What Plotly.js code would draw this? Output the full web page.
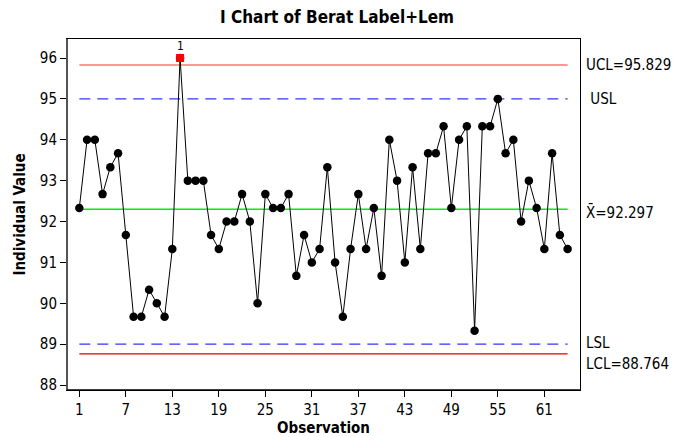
<!DOCTYPE html>
<html>
<head>
<meta charset="utf-8">
<script src="https://cdn.plot.ly/plotly-3.0.1.min.js"></script>
<style>html,body{margin:0;padding:0;background:#fff;}#chart{width:674px;height:437px;}</style>
</head>
<body>
<div id="chart"></div>
<script>
const observations = Array.from({length: 64}, (_, i) => i + 1);
const values = [
  92.33, 94, 94, 92.67, 93.33, 93.67, 91.67, 89.67, 89.67, 90.33,
  90, 89.67, 91.33, 96, 93, 93, 93, 91.67, 91.33, 92,
  92, 92.67, 92, 90, 92.67, 92.33, 92.33, 92.67, 90.67, 91.67,
  91, 91.33, 93.33, 91, 89.67, 91.33, 92.67, 91.33, 92.33, 90.67,
  94, 93, 91, 93.33, 91.33, 93.67, 93.67, 94.33, 92.33, 94,
  94.33, 89.33, 94.33, 94.33, 95, 93.67, 94, 92, 93, 92.33,
  91.33, 93.67, 91.67, 91.33
];
const UCL = 95.829, LCL = 88.764, MEAN = 92.297, USL = 95, LSL = 89;
const flaggedObs = [14];
const flaggedVals = [96];
const xTicks = [1, 7, 13, 19, 25, 31, 37, 43, 49, 55, 61];

const xEnds = [observations[0], observations[observations.length - 1]];
function hline(y, color, dash, width) {
  return {x: xEnds, y: [y, y], mode: 'lines', line: {color: color, width: width || 1.2, dash: dash || 'solid'}, hoverinfo: 'skip', showlegend: false};
}

const traces = [
  hline(UCL, '#ff3030'),
  hline(LCL, '#e00000'),
  hline(MEAN, '#00f000', 'solid', 1.5),
  hline(USL, '#3333ff', '11px,7px', 1.4),
  hline(LSL, '#3333ff', '11px,7px', 1.4),
  {x: observations, y: values, mode: 'lines+markers', line: {color: '#000', width: 1}, marker: {color: '#000', size: 8.5, symbol: 'circle'}, showlegend: false},
  {x: flaggedObs, y: flaggedVals, mode: 'markers', marker: {color: '#ff0000', size: 8, symbol: 'square'}, showlegend: false}
];

const COND = 'DejaVu Sans Condensed, DejaVu Sans, sans-serif';
const tickFont = {family: COND, size: 15, color: '#000'};
const labelFont = {family: COND, size: 15, color: '#000'};
const boldFont = {family: COND, size: 15, color: '#000'};
function rlabel(y, text, yshift) {
  return {xref: 'paper', yref: 'y', x: 1, y: y, text: text, showarrow: false, xanchor: 'left', xshift: 4, yshift: yshift || 0, font: labelFont};
}

const layout = {
  width: 674, height: 437,
  margin: {l: 67, r: 94, t: 39, b: 47},
  paper_bgcolor: '#fff', plot_bgcolor: '#fff',
  title: {text: '<b>I Chart of Berat Label+Lem</b>', x: 0.5, xanchor: 'center', y: 0.962, yanchor: 'middle', font: {family: COND, size: 17, color: '#000'}},
  xaxis: {
    range: [-0.59, 65.6], tickvals: xTicks, ticktext: xTicks.map(String),
    ticks: 'outside', ticklen: 6, tickcolor: '#000', showgrid: false, zeroline: false,
    showline: true, linecolor: '#000', linewidth: 1, mirror: true,
    tickfont: tickFont,
    title: {text: '<b>Observation</b>', font: boldFont, standoff: 4}
  },
  yaxis: {
    range: [87.878, 96.465], dtick: 1, tick0: 88,
    ticks: 'outside', ticklen: 6, tickcolor: '#000', showgrid: false, zeroline: false,
    showline: true, linecolor: '#000', linewidth: 1, mirror: true,
    tickfont: tickFont,
    title: {text: '<b>Individual Value</b>', font: boldFont, standoff: 10}
  },
  annotations: [
    rlabel(UCL, 'UCL=95.829', 0),
    rlabel(USL, '&nbsp;USL', 0),
    rlabel(MEAN, 'X\u0304=92.297', -3),
    rlabel(LSL, 'LSL', 1),
    rlabel(LCL, 'LCL=88.764', -10),
    {xref: 'x', yref: 'y', x: flaggedObs[0], y: flaggedVals[0], text: '1', showarrow: false, yshift: 12, font: {family: COND, size: 12, color: '#000'}}
  ],
  shapes: [
    {type: 'line', xref: 'paper', yref: 'paper', x0: 0, x1: 0, y0: 0, y1: 1, line: {color: '#555', width: 2}},
    {type: 'line', xref: 'paper', yref: 'paper', x0: 0, x1: 1, y0: 0, y1: 0, line: {color: '#000', width: 1.5}}
  ]
};

Plotly.newPlot('chart', traces, layout, {displayModeBar: false, staticPlot: true});
</script>
</body>
</html>
